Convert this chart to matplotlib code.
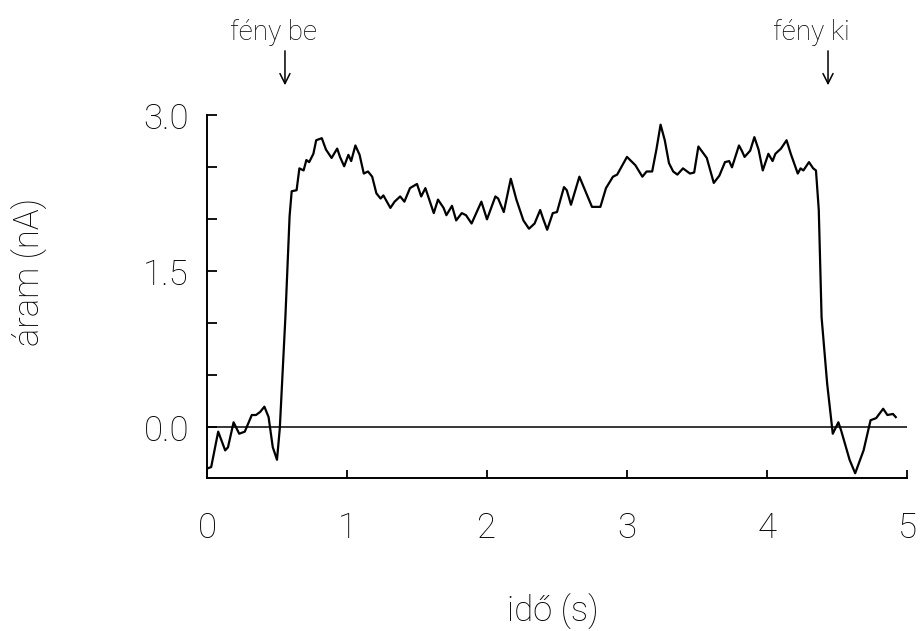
import matplotlib
matplotlib.use("Agg")
import matplotlib.pyplot as plt
from matplotlib.ticker import MultipleLocator

# ido (s) es aram (nA) a kepről leolvasva
ido = [0.01, 0.03, 0.08, 0.13, 0.15, 0.19, 0.23, 0.27, 0.32, 0.35, 0.38, 0.41, 0.44, 0.47, 0.50,
       0.52, 0.56, 0.59, 0.605, 0.64, 0.66, 0.69, 0.71, 0.73, 0.76, 0.78, 0.82, 0.85, 0.89, 0.93,
       0.95, 0.98, 1.01, 1.03, 1.06, 1.09, 1.12, 1.15, 1.18, 1.21, 1.24, 1.26, 1.31, 1.34, 1.38,
       1.41, 1.45, 1.50, 1.53, 1.56, 1.62, 1.65, 1.69, 1.71, 1.75, 1.78, 1.82, 1.85, 1.89, 1.96,
       2.00, 2.06, 2.08, 2.12, 2.17, 2.21, 2.26, 2.30, 2.34, 2.38, 2.40, 2.43, 2.47, 2.50, 2.55,
       2.57, 2.60, 2.66, 2.70, 2.75, 2.81, 2.85, 2.90, 2.93, 3.00, 3.06, 3.11, 3.14, 3.18, 3.21,
       3.24, 3.27, 3.30, 3.33, 3.36, 3.40, 3.45, 3.48, 3.51, 3.57, 3.62, 3.66, 3.70, 3.73, 3.75,
       3.80, 3.82, 3.84, 3.88, 3.91, 3.94, 3.97, 4.01, 4.04, 4.06, 4.10, 4.14, 4.17, 4.22, 4.24,
       4.26, 4.30, 4.33, 4.35, 4.37, 4.39, 4.43, 4.47, 4.51, 4.53, 4.59, 4.63, 4.69, 4.74, 4.78,
       4.83, 4.86, 4.90, 4.92]
aram = [-0.39, -0.38, -0.04, -0.22, -0.19, 0.05, -0.06, -0.04, 0.12, 0.12, 0.15, 0.20, 0.10, -0.19, -0.31,
        -0.01, 1.06, 2.03, 2.27, 2.28, 2.49, 2.47, 2.57, 2.55, 2.63, 2.76, 2.78, 2.67, 2.59, 2.68,
        2.60, 2.51, 2.62, 2.56, 2.71, 2.62, 2.44, 2.46, 2.41, 2.25, 2.20, 2.23, 2.11, 2.17, 2.22,
        2.17, 2.30, 2.34, 2.22, 2.30, 2.06, 2.19, 2.11, 2.04, 2.13, 1.99, 2.06, 2.04, 1.96, 2.17,
        2.00, 2.22, 2.20, 2.07, 2.39, 2.19, 1.99, 1.91, 1.96, 2.09, 2.01, 1.90, 2.06, 2.07, 2.31,
        2.28, 2.14, 2.41, 2.28, 2.12, 2.12, 2.30, 2.41, 2.43, 2.60, 2.52, 2.41, 2.46, 2.46, 2.67,
        2.91, 2.76, 2.54, 2.46, 2.43, 2.49, 2.44, 2.45, 2.70, 2.59, 2.35, 2.42, 2.55, 2.56, 2.50,
        2.71, 2.66, 2.60, 2.66, 2.79, 2.67, 2.47, 2.63, 2.56, 2.63, 2.68, 2.76, 2.63, 2.44, 2.49,
        2.47, 2.55, 2.49, 2.47, 2.09, 1.06, 0.42, -0.06, 0.05, -0.03, -0.31, -0.44, -0.22, 0.07, 0.09,
        0.18, 0.12, 0.13, 0.10]

x_ticks = [0, 1, 2, 3, 4, 5]
x_labels = ["0", "1", "2", "3", "4", "5"]
y_ticks = [0.0, 1.5, 3.0]
y_labels = ["0.0", "1.5", "3.0"]
jelek = ["fény be", "fény ki"]
jel_ido = [0.557, 4.436]

plt.rcParams["font.family"] = ["Roboto", "DejaVu Sans"]
plt.rcParams["font.weight"] = "light"

fig = plt.figure(figsize=(9.22, 6.31), dpi=100)
ax = fig.add_axes([0.2245, 0.2417, 0.7592, 0.5756])

ax.plot(ido, aram, color="black", lw=1.6)
ax.axhline(0, color="black", lw=1.1)

ax.set_xlim(0, 5)
ax.set_ylim(-0.49, 3.0)
ax.spines["top"].set_visible(False)
ax.spines["right"].set_visible(False)
for s in ["left", "bottom"]:
    ax.spines[s].set_linewidth(1.4)

ax.set_xticks(x_ticks)
ax.set_xticklabels(x_labels)
ax.set_yticks(y_ticks)
ax.set_yticklabels(y_labels)
ax.yaxis.set_minor_locator(MultipleLocator(0.5))
ax.tick_params(axis="x", direction="in", length=6, width=1.3, pad=24, labelsize=25)
ax.tick_params(axis="y", which="both", direction="in", length=7.5, width=1.3, pad=13, labelsize=25)

fig.text(553 / 922, 1 - 612 / 631, "idő (s)", fontsize=25, ha="center", va="center")
fig.text(30 / 922, 1 - 272 / 631, "áram (nA)", fontsize=25, rotation=90, ha="center", va="center")

for szoveg, t in zip(jelek, jel_ido):
    ax.annotate("", xy=(t, 1.075), xytext=(t, 1.185), xycoords=ax.get_xaxis_transform(),
                arrowprops=dict(arrowstyle="->", color="black", lw=1.1, mutation_scale=18),
                annotation_clip=False)
    ax.text(t - 0.393, 1.207, szoveg, transform=ax.get_xaxis_transform(), fontsize=20,
            ha="left", va="baseline")

plt.savefig("out.png", dpi=100)
plt.close()
